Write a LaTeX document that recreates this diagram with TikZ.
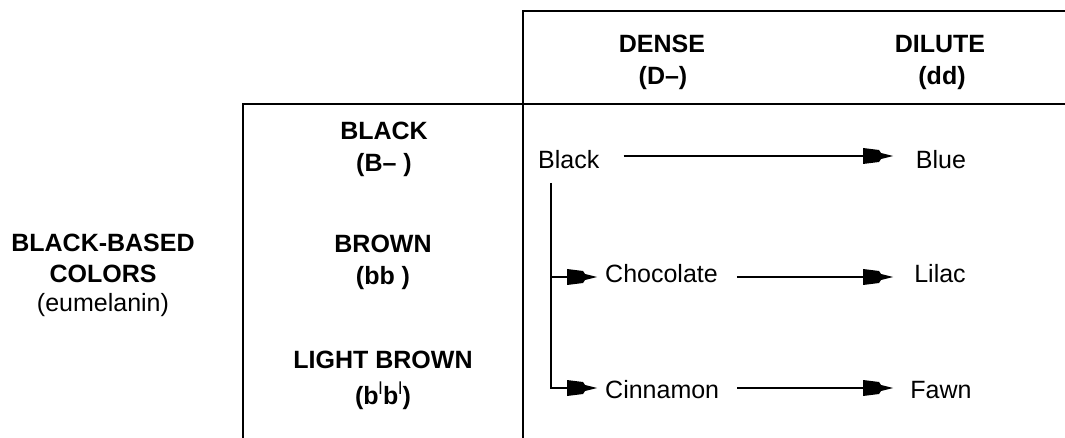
\documentclass[tikz,border=0pt]{standalone}
\usepackage{fontspec}
\setmainfont{Liberation Sans}
\usetikzlibrary{arrows.meta}
\pgfdeclarearrow{
  name = HeadTip,
  setup code = {
    \pgfarrowssettipend{0pt}
    \pgfarrowssetlineend{-14pt}
    \pgfarrowssetbackend{-30pt}
    \pgfarrowshullpoint{0pt}{0pt}
    \pgfarrowshullpoint{-30pt}{8pt}
    \pgfarrowshullpoint{-30pt}{-8pt}
  },
  drawing code = {
    \pgfpathmoveto{\pgfpoint{0pt}{0pt}}
    \pgfpathlineto{\pgfpoint{-12pt}{3pt}}
    \pgfpathlineto{\pgfpoint{-14pt}{6pt}}
    \pgfpathlineto{\pgfpoint{-30pt}{8pt}}
    \pgfpathlineto{\pgfpoint{-30pt}{-8pt}}
    \pgfpathlineto{\pgfpoint{-14pt}{-6pt}}
    \pgfpathlineto{\pgfpoint{-12pt}{-3pt}}
    \pgfpathclose
    \pgfusepathqfill
  }
}
\begin{document}
\begin{tikzpicture}[x=1pt,y=-1pt,
  txt/.style={inner sep=0pt,anchor=base,font=\fontsize{25}{30}\selectfont},
  bold/.style={txt,font=\fontsize{25}{30}\selectfont\bfseries},
  leftt/.style={txt,anchor=base west},
  rule/.style={line width=2pt},
  arr/.style={line width=2pt,-HeadTip}]
\useasboundingbox (0,0) rectangle (1065,438);
% table rules
\draw[rule] (523,438) -- (523,11.5) -- (1065,11.5);
\draw[rule] (243,438) -- (243,104) -- (1065,104);
% column headers
\node[bold] (denseA) at (662,53) {DENSE};
\node[bold] (denseB) at (663,85) {(D–)};
\node[bold] (diluteA) at (940,53) {DILUTE};
\node[bold] (diluteB) at (942,85) {(dd)};
% row headers
\node[bold] (blackA) at (384,140) {BLACK};
\node[bold] (blackB) at (384,172) {(B– )};
\node[bold] (brownA) at (383,253) {BROWN};
\node[bold] (brownB) at (383,284) {(bb )};
\node[bold] (lbrownA) at (383,368) {LIGHT BROWN};
\node[bold] (lbrownB) at (383,404) {(b\textsuperscript{\mdseries l}b\textsuperscript{\mdseries l})};
% group label
\node[bold] (grpA) at (103,252) {BLACK-BASED};
\node[bold] (grpB) at (103,283) {COLORS};
\node[txt] (grpC) at (103,312) {(eumelanin)};
% cells
\node[leftt] (black) at (538,169) {Black};
\node[txt] (blue) at (941,169) {Blue};
\node[leftt] (choc) at (605,283) {Chocolate};
\node[txt] (lilac) at (940,283) {Lilac};
\node[leftt] (cinn) at (605,398) {Cinnamon};
\node[txt] (fawn) at (941,398) {Fawn};
% connectors
\draw[arr] ([xshift=24pt,yshift=13pt]black.base east) -- ([xshift=-48pt,yshift=13pt]blue.base);
\draw[arr] ([xshift=19pt,yshift=6pt]choc.base east) -- ([xshift=-47pt,yshift=6pt]lilac.base);
\draw[arr] ([xshift=18pt,yshift=10pt]cinn.base east) -- ([xshift=-48pt,yshift=10pt]fawn.base);
\coordinate (br) at ([xshift=13pt,yshift=-14pt]black.base west);
\coordinate (chocin) at ([xshift=-8pt,yshift=6pt]choc.base west);
\coordinate (cinnin) at ([xshift=-8pt,yshift=10pt]cinn.base west);
\draw[arr] (br) |- (cinnin);
\draw[arr] (br |- chocin) -- (chocin);
\end{tikzpicture}
\end{document}
